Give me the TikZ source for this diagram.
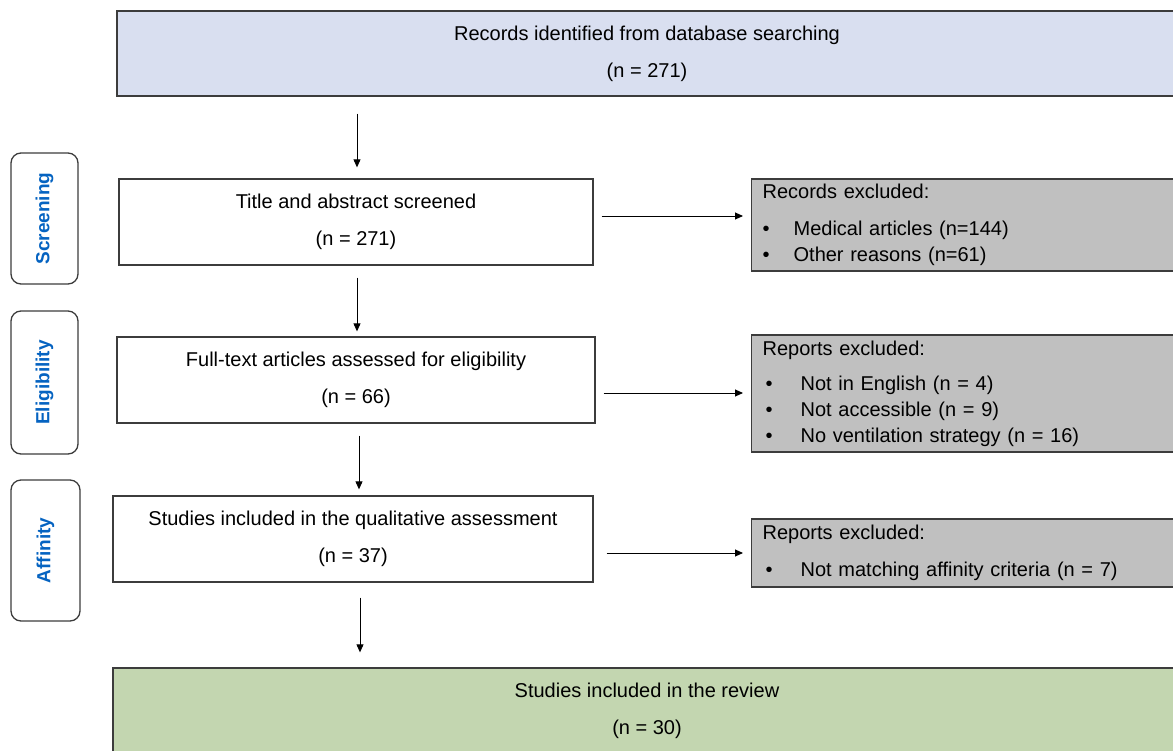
\documentclass[tikz,border=0pt]{standalone}
\usepackage{fontspec}
\setmainfont{Liberation Sans}
\usetikzlibrary{arrows.meta,positioning}
\usepackage{xcolor}
\definecolor{topblue}{RGB}{217,223,240}
\definecolor{reviewgreen}{RGB}{195,214,176}
\definecolor{excludegrey}{RGB}{192,192,192}
\definecolor{phaseblue}{RGB}{5,99,193}
\definecolor{edgegrey}{RGB}{60,60,60}

\newcommand{\bul}[1]{\makebox[#1][l]{\textbullet}}

\begin{document}
\begin{tikzpicture}[x=1pt,y=-1pt,
	stage/.style={draw=edgegrey,line width=1.3pt,inner sep=0pt,align=center,
		font=\fontsize{20}{37}\selectfont},
	excluded/.style={stage,fill=excludegrey,align=left,anchor=west,
		minimum width=440pt,text width=418pt,inner xsep=11pt,
		font=\fontsize{20}{26}\selectfont},
	phase/.style={draw=edgegrey,line width=1.3pt,rounded corners=10pt,rotate=90,
		text=phaseblue,font=\fontsize{19}{19}\selectfont\bfseries},
	flow/.style={-{Triangle[length=8pt,width=7pt]},line width=0.9pt}]
	\useasboundingbox (0,0) rectangle (1173,750);

	% Main column of the flow.
	\node[stage,fill=topblue,minimum width=1060pt,minimum height=85pt] (records) at (647,53.5)
		{Records identified from database searching\\(n = 271)};
	\node[stage,minimum width=474pt,minimum height=86pt] (title) at (356,222)
		{Title and abstract screened\\(n = 271)};
	\node[stage,minimum width=478pt,minimum height=86pt] (fulltext) at (356,380)
		{Full-text articles assessed for eligibility\\(n = 66)};
	\node[stage,minimum width=480pt,minimum height=86pt] (studies) at (353,539)
		{Studies included in the qualitative assessment\\(n = 37)};
	\node[stage,fill=reviewgreen,minimum width=1068pt,minimum height=86pt] (review) at (647,711)
		{Studies included in the review\\(n = 30)};

	% Exclusion boxes on the right.
	\node[excluded,minimum height=92pt] (excl1) at (751,225)
		{Records excluded:\\[11pt]
		 \bul{31pt}Medical articles (n=144)\\
		 \bul{31pt}Other reasons (n=61)};
	\node[excluded,minimum height=117pt] (excl2) at (751,393.5)
		{Reports excluded:\\[9pt]
		 \hspace*{3pt}\bul{35pt}Not in English (n = 4)\\
		 \hspace*{3pt}\bul{35pt}Not accessible (n = 9)\\
		 \hspace*{3pt}\bul{35pt}No ventilation strategy (n = 16)};
	\node[excluded,minimum height=68pt] (excl3) at (751,553)
		{Reports excluded:\\[11pt]
		 \hspace*{3pt}\bul{35pt}Not matching affinity criteria (n = 7)};

	% Phase labels on the left.
	\node[phase,minimum width=131pt,minimum height=67pt] (screening) at (44.5,218.5) {Screening};
	\node[phase,minimum width=143pt,minimum height=67pt] (eligibility) at (44.5,382.5) {Eligibility};
	\node[phase,minimum width=141pt,minimum height=69pt] (affinity) at (45.5,550.5) {Affinity};

	% Arrows down the column.
	\draw[flow,shorten <=17pt,shorten >=11pt] ([xshift=1pt]records.south -| title.north) -- ([xshift=1pt]title.north);
	\draw[flow,shorten <=12pt,shorten >=5pt] ([xshift=1pt]title.south) -- ([xshift=1pt]title.south |- fulltext.north);
	\draw[flow,shorten <=12pt,shorten >=6pt] ([xshift=3pt]fulltext.south) -- ([xshift=3pt]fulltext.south |- studies.north);
	\draw[flow,shorten <=15pt,shorten >=15pt] ([xshift=7pt]studies.south) -- ([xshift=7pt]studies.south |- review.north);

	% Arrows to the exclusions.
	\draw[flow,shorten <=8pt,shorten >=8pt] ([yshift=6pt]title.east) -- ([yshift=6pt]title.east -| excl1.west);
	\draw[flow,shorten <=8pt,shorten >=8pt] ([yshift=-13pt]fulltext.east) -- ([yshift=-13pt]fulltext.east -| excl2.west);
	\draw[flow,shorten <=13pt,shorten >=8pt] ([yshift=-14pt]studies.east) -- ([yshift=-14pt]studies.east -| excl3.west);
\end{tikzpicture}
\end{document}
